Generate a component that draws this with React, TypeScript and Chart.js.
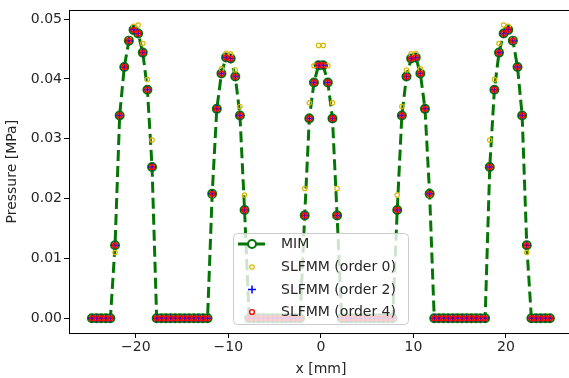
import React, { useEffect, useRef } from 'react';
import { Chart, registerables } from 'chart.js';

Chart.register(...registerables);

// x positions of the evaluation points [mm]
const xPositions = [
  -24.75, -24.25, -23.75, -23.25, -22.75, -22.25, -21.75, -21.25, -20.75, -20.25,
  -19.75, -19.25, -18.75, -18.25, -17.75, -17.25, -16.75, -16.25, -15.75, -15.25,
  -14.75, -14.25, -13.75, -13.25, -12.75, -12.25, -11.75, -11.25, -10.75, -10.25,
  -9.75, -9.25, -8.75, -8.25, -7.75, -7.25, -6.75, -6.25, -5.75, -5.25,
  -4.75, -4.25, -3.75, -3.25, -2.75, -2.25, -1.75, -1.25, -0.75, -0.25,
  0.25, 0.75, 1.25, 1.75, 2.25, 2.75, 3.25, 3.75, 4.25, 4.75,
  5.25, 5.75, 6.25, 6.75, 7.25, 7.75, 8.25, 8.75, 9.25, 9.75,
  10.25, 10.75, 11.25, 11.75, 12.25, 12.75, 13.25, 13.75, 14.25, 14.75,
  15.25, 15.75, 16.25, 16.75, 17.25, 17.75, 18.25, 18.75, 19.25, 19.75,
  20.25, 20.75, 21.25, 21.75, 22.25, 22.75, 23.25, 23.75, 24.25, 24.75,
];

// Pressure [MPa]
const mimValues = [
  0, 0, 0, 0, 0, 0.0122, 0.0339, 0.0420, 0.0464, 0.0482,
  0.0476, 0.0444, 0.0382, 0.0253, 0, 0, 0, 0, 0, 0,
  0, 0, 0, 0, 0, 0, 0.0208, 0.0350, 0.0409, 0.0436,
  0.0434, 0.0404, 0.0339, 0.0181, 0, 0, 0, 0, 0, 0,
  0, 0, 0, 0, 0, 0, 0.0172, 0.0334, 0.0394, 0.0423,
  0.0423, 0.0394, 0.0334, 0.0172, 0, 0, 0, 0, 0, 0,
  0, 0, 0, 0, 0, 0, 0.0181, 0.0339, 0.0404, 0.0434,
  0.0436, 0.0409, 0.0350, 0.0208, 0, 0, 0, 0, 0, 0,
  0, 0, 0, 0, 0, 0, 0.0253, 0.0382, 0.0444, 0.0476,
  0.0482, 0.0464, 0.0420, 0.0339, 0.0122, 0, 0, 0, 0, 0,
];

const slfmmOrder0 = [
  0, 0, 0, 0, 0, 0.0110, 0.0339, 0.0420, 0.0466, 0.0488,
  0.0490, 0.0459, 0.0399, 0.0298, 0, 0, 0, 0, 0, 0,
  0, 0, 0, 0, 0, 0, 0.0206, 0.0350, 0.0417, 0.0443,
  0.0442, 0.0415, 0.0354, 0.0206, 0, 0, 0, 0, 0, 0,
  0, 0, 0, 0, 0, 0, 0.0217, 0.0360, 0.0422, 0.0456,
  0.0456, 0.0422, 0.0360, 0.0217, 0, 0, 0, 0, 0, 0,
  0, 0, 0, 0, 0, 0, 0.0206, 0.0354, 0.0415, 0.0442,
  0.0443, 0.0417, 0.0350, 0.0206, 0, 0, 0, 0, 0, 0,
  0, 0, 0, 0, 0, 0, 0.0298, 0.0399, 0.0459, 0.0490,
  0.0488, 0.0466, 0.0420, 0.0339, 0.0110, 0, 0, 0, 0, 0,
];

const slfmmOrder2 = [
  0, 0, 0, 0, 0, 0.0122, 0.0339, 0.0420, 0.0464, 0.0482,
  0.0476, 0.0444, 0.0382, 0.0253, 0, 0, 0, 0, 0, 0,
  0, 0, 0, 0, 0, 0, 0.0208, 0.0350, 0.0409, 0.0436,
  0.0434, 0.0404, 0.0339, 0.0181, 0, 0, 0, 0, 0, 0,
  0, 0, 0, 0, 0, 0, 0.0172, 0.0334, 0.0394, 0.0423,
  0.0423, 0.0394, 0.0334, 0.0172, 0, 0, 0, 0, 0, 0,
  0, 0, 0, 0, 0, 0, 0.0181, 0.0339, 0.0404, 0.0434,
  0.0436, 0.0409, 0.0350, 0.0208, 0, 0, 0, 0, 0, 0,
  0, 0, 0, 0, 0, 0, 0.0253, 0.0382, 0.0444, 0.0476,
  0.0482, 0.0464, 0.0420, 0.0339, 0.0122, 0, 0, 0, 0, 0,
];

const slfmmOrder4 = [
  0, 0, 0, 0, 0, 0.0122, 0.0339, 0.0420, 0.0464, 0.0482,
  0.0476, 0.0444, 0.0382, 0.0253, 0, 0, 0, 0, 0, 0,
  0, 0, 0, 0, 0, 0, 0.0208, 0.0350, 0.0409, 0.0436,
  0.0434, 0.0404, 0.0339, 0.0181, 0, 0, 0, 0, 0, 0,
  0, 0, 0, 0, 0, 0, 0.0172, 0.0334, 0.0394, 0.0423,
  0.0423, 0.0394, 0.0334, 0.0172, 0, 0, 0, 0, 0, 0,
  0, 0, 0, 0, 0, 0, 0.0181, 0.0339, 0.0404, 0.0434,
  0.0436, 0.0409, 0.0350, 0.0208, 0, 0, 0, 0, 0, 0,
  0, 0, 0, 0, 0, 0, 0.0253, 0.0382, 0.0444, 0.0476,
  0.0482, 0.0464, 0.0420, 0.0339, 0.0122, 0, 0, 0, 0, 0,
];

const seriesLabels = ['MIM', 'SLFMM (order 0)', 'SLFMM (order 2)', 'SLFMM (order 4)'];
const xTicks = [-20, -10, 0, 10, 20];
const yTicks = [0, 0.01, 0.02, 0.03, 0.04, 0.05];

const GREEN = '#057505';
const YELLOW = '#dcb800';
const BLUE = '#0000ff';
const RED = '#ff0000';
const FONT = "'DejaVu Sans', sans-serif";
const TEXT = '#262626';

const toPoints = (vals: number[]) => vals.map((y, i) => ({ x: xPositions[i], y }));

const fmtX = (v: number) => (v < 0 ? '\u2212' + Math.abs(v) : String(v));

const framePlugin = {
  id: 'frameAndLegend',
  afterDraw(chart: any) {
    const { ctx, chartArea } = chart;
    ctx.save();
    // top & right spines
    ctx.strokeStyle = '#000';
    ctx.lineWidth = 1;
    ctx.beginPath();
    ctx.moveTo(Math.round(chartArea.left), Math.round(chartArea.top) + 0.5);
    ctx.lineTo(Math.round(chartArea.right), Math.round(chartArea.top) + 0.5);
    ctx.lineTo(Math.round(chartArea.right) + 0.5, Math.round(chartArea.bottom));
    ctx.stroke();

    // legend box
    const bx = 233.5, by = 233.5, bw = 175, bh = 91;
    ctx.beginPath();
    ctx.roundRect(bx, by, bw, bh, 4);
    ctx.fillStyle = 'rgba(255,255,255,0.8)';
    ctx.fill();
    ctx.strokeStyle = '#cccccc';
    ctx.lineWidth = 1;
    ctx.stroke();

    const hx = 252;
    const rows = [244, 267, 289.5, 312];

    // MIM handle
    ctx.strokeStyle = GREEN;
    ctx.lineWidth = 3;
    ctx.setLineDash([11, 5]);
    ctx.beginPath();
    ctx.moveTo(238, rows[0]);
    ctx.lineTo(266, rows[0]);
    ctx.stroke();
    ctx.setLineDash([]);
    ctx.lineWidth = 2;
    ctx.fillStyle = '#fff';
    ctx.beginPath();
    ctx.arc(hx, rows[0], 4, 0, Math.PI * 2);
    ctx.fill();
    ctx.stroke();

    // order 0
    ctx.strokeStyle = YELLOW;
    ctx.lineWidth = 1.2;
    ctx.beginPath();
    ctx.arc(hx, rows[1], 2.2, 0, Math.PI * 2);
    ctx.stroke();

    // order 2
    ctx.strokeStyle = BLUE;
    ctx.lineWidth = 1.5;
    ctx.beginPath();
    ctx.moveTo(hx - 4, rows[2]);
    ctx.lineTo(hx + 4, rows[2]);
    ctx.moveTo(hx, rows[2] - 4);
    ctx.lineTo(hx, rows[2] + 4);
    ctx.stroke();

    // order 4
    ctx.strokeStyle = RED;
    ctx.lineWidth = 1.4;
    ctx.beginPath();
    ctx.arc(hx, rows[3], 2.4, 0, Math.PI * 2);
    ctx.stroke();

    ctx.fillStyle = TEXT;
    ctx.font = `14px ${FONT}`;
    ctx.textBaseline = 'middle';
    ctx.textAlign = 'left';
    seriesLabels.forEach((t, i) => ctx.fillText(t, 281, rows[i] + 0.5));
    ctx.restore();
  },
};

export default function App() {
  const canvasRef = useRef<HTMLCanvasElement | null>(null);

  useEffect(() => {
    if (!canvasRef.current) return;
    const tickFont = { family: FONT, size: 14 };
    const chart = new Chart(canvasRef.current, {
      type: 'scatter',
      data: {
        datasets: [
          {
            label: seriesLabels[0],
            data: toPoints(mimValues),
            showLine: true,
            borderColor: GREEN,
            borderWidth: 3,
            borderDash: [11, 5],
            pointRadius: 4,
            pointBorderWidth: 2,
            pointBorderColor: GREEN,
            pointBackgroundColor: '#ffffff',
            order: 4,
          },
          {
            label: seriesLabels[1],
            data: toPoints(slfmmOrder0),
            showLine: false,
            pointRadius: 2.2,
            pointBorderWidth: 1.2,
            pointBorderColor: YELLOW,
            pointBackgroundColor: 'rgba(0,0,0,0)',
            order: 3,
          },
          {
            label: seriesLabels[2],
            data: toPoints(slfmmOrder2),
            showLine: false,
            pointStyle: 'cross',
            pointRadius: 3.8,
            pointBorderWidth: 1.5,
            pointBorderColor: BLUE,
            pointBackgroundColor: BLUE,
            order: 2,
          },
          {
            label: seriesLabels[3],
            data: toPoints(slfmmOrder4),
            showLine: false,
            pointRadius: 2.4,
            pointBorderWidth: 1.5,
            pointBorderColor: RED,
            pointBackgroundColor: 'rgba(255,0,0,0.25)',
            order: 1,
          },
        ],
      },
      options: {
        responsive: false,
        animation: false,
        devicePixelRatio: 1,
        layout: { padding: { top: 6, right: 7.2, left: 0, bottom: 0 } },
        plugins: { legend: { display: false }, tooltip: { enabled: false } },
        scales: {
          x: {
            type: 'linear',
            min: -27.225,
            max: 27.225,
            afterFit: (s: any) => { s.height = 45; },
            afterBuildTicks: (s: any) => { s.ticks = xTicks.map((v) => ({ value: v })); },
            grid: { drawOnChartArea: false, drawTicks: true, tickLength: 5, color: '#000', lineWidth: 1 },
            border: { display: true, color: '#000', width: 1 },
            ticks: {
              font: tickFont,
              color: TEXT,
              padding: 1,
              maxRotation: 0,
              autoSkip: false,
              callback: (v: any) => fmtX(Number(v)),
            },
            title: { display: true, text: 'x [mm]', font: tickFont, color: TEXT, padding: { top: 0, bottom: 0 } },
          },
          y: {
            type: 'linear',
            min: -0.00245,
            max: 0.05145,
            afterFit: (s: any) => { s.width = 69; },
            afterBuildTicks: (s: any) => { s.ticks = yTicks.map((v) => ({ value: v })); },
            grid: { drawOnChartArea: false, drawTicks: true, tickLength: 5, color: '#000', lineWidth: 1 },
            border: { display: true, color: '#000', width: 1 },
            ticks: {
              font: tickFont,
              color: TEXT,
              padding: 2,
              autoSkip: false,
              callback: (v: any) => Number(v).toFixed(2),
            },
            title: { display: true, text: 'Pressure [MPa]', font: tickFont, color: TEXT, padding: { top: 3.6, bottom: 0 } },
          },
        },
      },
      plugins: [framePlugin],
    } as any);
    return () => chart.destroy();
  }, []);

  return (
    <div style={{ position: 'fixed', left: 0, top: 0, width: 569, height: 378, overflow: 'hidden', background: '#fff' }}>
      <canvas ref={canvasRef} width={580} height={378} style={{ display: 'block', width: 580, height: 378 }} />
    </div>
  );
}
